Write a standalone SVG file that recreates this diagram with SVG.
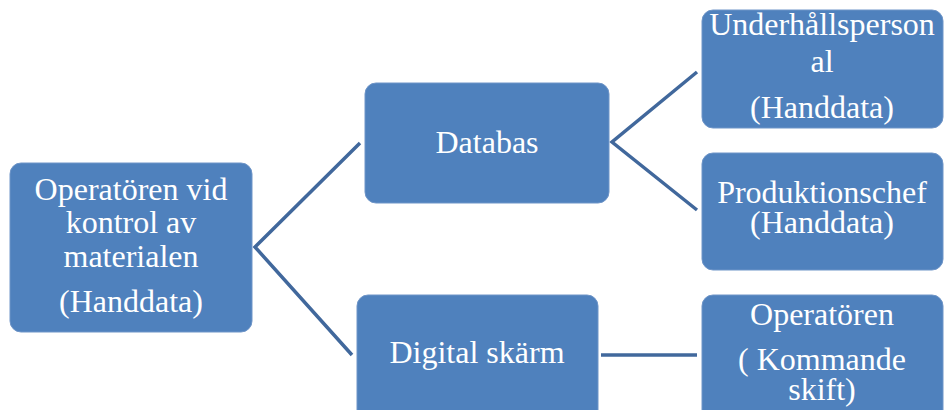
<svg xmlns="http://www.w3.org/2000/svg" width="944" height="410" viewBox="0 0 944 410">
<style>
.box{fill:#4F81BD;stroke:#6F95C8;stroke-width:1}
.t{font-family:"Liberation Serif","Times New Roman",serif;font-size:32px;fill:#FFFFFF;text-anchor:middle}
.c{fill:none;stroke:#41689C;stroke-width:3.5}
</style>
<rect width="944" height="410" fill="#FFFFFF"/>
<g id="connectors">
<polyline class="c" points="360,143 255,247 352,355"/>
<polyline class="c" points="697,72 612,142 697,210"/>
<line class="c" x1="601" y1="355" x2="697" y2="355"/>
</g>
<g id="n1">
<rect class="box" x="10" y="163" width="242" height="169" rx="11"/>
<text class="t" x="131" y="200">Operatören vid</text>
<text class="t" x="131" y="233">kontrol av</text>
<text class="t" x="131" y="267">materialen</text>
<text class="t" x="131" y="312">(Handdata)</text>
</g>
<g id="n2">
<rect class="box" x="365" y="83" width="244" height="120" rx="11"/>
<text class="t" x="487" y="153">Databas</text>
</g>
<g id="n3">
<rect class="box" x="357" y="295" width="241" height="130" rx="11"/>
<text class="t" x="477" y="363">Digital skärm</text>
</g>
<g id="n4">
<rect class="box" x="702" y="10" width="241" height="118" rx="11"/>
<text class="t" x="822" y="35">Underhållsperson</text>
<text class="t" x="822" y="72">al</text>
<text class="t" x="822" y="118">(Handdata)</text>
</g>
<g id="n5">
<rect class="box" x="702" y="153" width="241" height="117" rx="11"/>
<text class="t" x="822" y="203">Produktionschef</text>
<text class="t" x="822" y="233">(Handdata)</text>
</g>
<g id="n6">
<rect class="box" x="702" y="295" width="241" height="130" rx="11"/>
<text class="t" x="822" y="325">Operatören</text>
<text class="t" x="822" y="370">( Kommande</text>
<text class="t" x="822" y="400">skift)</text>
</g>
</svg>
